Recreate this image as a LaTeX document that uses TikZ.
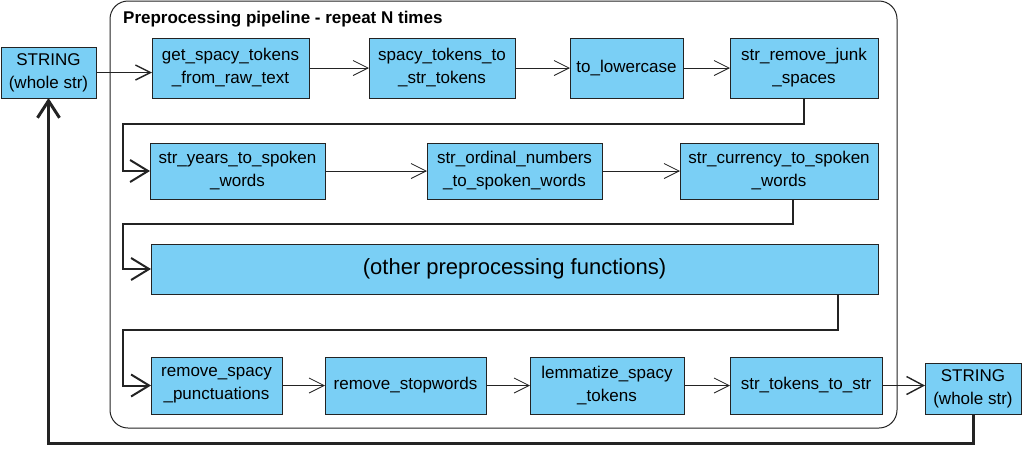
\documentclass[tikz,border=0pt]{standalone}
\usepackage{fontspec}
\setmainfont{Liberation Sans}
\usetikzlibrary{arrows.meta}
\usepackage{xcolor}
\definecolor{PipeBlue}{RGB}{122,207,245}
\definecolor{PipeEdge}{RGB}{35,35,35}

\begin{document}
\begin{tikzpicture}[x=1pt,y=-1pt,box/.style={rectangle,draw=PipeEdge,fill=PipeBlue,line width=1pt,align=center,inner sep=0pt,outer sep=0pt,font=\fontsize{17}{23}\selectfont},arrow/.style={-{Straight Barb[length=15pt,width=15pt]},line width=0.8pt,draw=PipeEdge},turn/.style={-{Straight Barb[length=18pt,width=22pt]},line width=2pt,draw=PipeEdge},back/.style={-{Straight Barb[length=17pt,width=22pt]},line width=3pt,draw=PipeEdge}]
\useasboundingbox (0,0) rectangle (1028,448);
\node[draw=PipeEdge,line width=1pt,rounded corners=18pt,minimum width=787pt,minimum height=427pt,inner sep=0pt](pipe) at (503.5,214.5){};
\node[anchor=west,inner sep=0pt,font=\bfseries\fontsize{17}{20}\selectfont](title) at (123,19){Preprocessing pipeline - repeat N times};
\node[box,minimum width=95pt,minimum height=51pt](sL) at (48.5,72.5){STRING\\(whole str)};
\node[box,minimum width=157pt,minimum height=60pt](f1) at (230.5,68){get\_spacy\_tokens\\\_from\_raw\_text};
\node[box,minimum width=146pt,minimum height=60pt](f2) at (442,68){spacy\_tokens\_to\\\_str\_tokens};
\node[box,minimum width=113pt,minimum height=60pt](f3) at (626.5,68){to\_lowercase};
\node[box,minimum width=148pt,minimum height=60pt](f4) at (804,68){str\_remove\_junk\\\_spaces};
\node[box,minimum width=175pt,minimum height=56pt](f5) at (237.5,171){str\_years\_to\_spoken\\\_words};
\node[box,minimum width=175pt,minimum height=56pt](f6) at (514.5,171){str\_ordinal\_numbers\\\_to\_spoken\_words};
\node[box,minimum width=198pt,minimum height=56pt](f7) at (779,171){str\_currency\_to\_spoken\\\_words};
\node[box,minimum width=727pt,minimum height=50pt,font=\fontsize{22}{26}\selectfont](f8) at (514.5,269){(other preprocessing functions)};
\node[box,minimum width=131pt,minimum height=57pt](f9) at (216.5,385.5){remove\_spacy\\\_punctuations};
\node[box,minimum width=161pt,minimum height=57pt](f10) at (405.5,385.5){remove\_stopwords};
\node[box,minimum width=154pt,minimum height=57pt](f11) at (607,385.5){lemmatize\_spacy\\\_tokens};
\node[box,minimum width=152pt,minimum height=57pt](f12) at (806,385.5){str\_tokens\_to\_str};
\node[box,minimum width=96pt,minimum height=51pt](sR) at (973,388.5){STRING\\(whole str)};
\coordinate (k1) at (123,124);
\coordinate (k2) at (123,224);
\coordinate (k3) at (123,330);
\draw[arrow,line width=1.4pt](sL)--(sL-|f1.west);
\foreach \x/\y in {f1/f2,f2/f3,f3/f4,f5/f6,f6/f7,f9/f10,f10/f11,f11/f12}{\draw[arrow](\x)--(\y);}
\draw[arrow,line width=1.4pt,-{Straight Barb[length=17pt,width=18pt]}](f12)--(f12-|sR.west);
\draw[turn](f4.south)|-(k1)|-(f5.west);
\draw[turn]([xshift=14pt]f7.south)|-(k2)|-(f8.west);
\draw[turn]([xshift=323.5pt]f8.south)|-(k3)|-(f9.west);
\draw[back](sR.south)--++(0,29)-|(sL.south);
\end{tikzpicture}
\end{document}
